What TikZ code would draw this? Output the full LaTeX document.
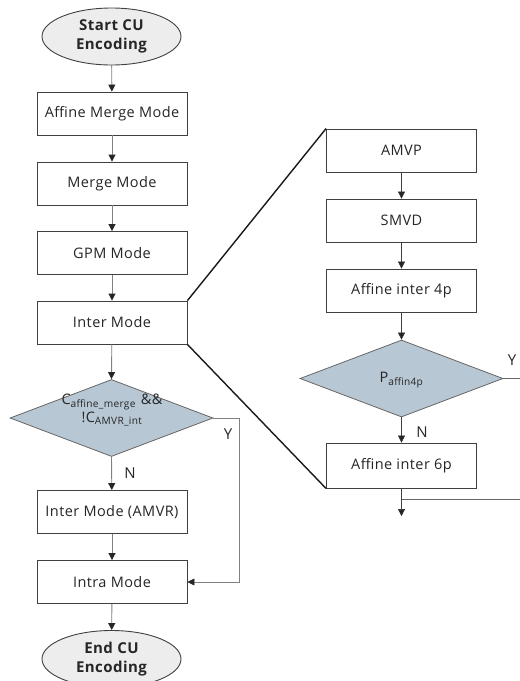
\documentclass[tikz,border=0pt]{standalone}
\usepackage{fontspec}
\setmainfont{Open Sans}[LetterSpace=3]
\usetikzlibrary{shapes.geometric,arrows.meta}
\begin{document}
\begin{tikzpicture}[x=1pt,y=-1pt,
  every node/.style={font=\fontsize{14.5}{18}\selectfont, text=black!85},
  procbox/.style={draw=black!75, line width=0.9pt, fill=white, minimum width=150pt, minimum height=43pt, inner sep=0pt},
  termnode/.style={ellipse, draw=black!75, line width=0.9pt, fill=black!7, minimum width=139pt, minimum height=57pt, inner sep=0pt, align=center, font=\fontsize{15}{19}\selectfont\bfseries},
  decnode/.style={diamond, draw=black!60, line width=0.8pt, fill={rgb,255:red,183;green,199;blue,212}, minimum width=203pt, minimum height=77pt, inner sep=0pt, shape aspect=2.6},
  dectext/.style={align=center, inner sep=0pt, font=\fontsize{14.5}{18}\selectfont},
  grayarrow/.style={draw=black!50, line width=0.9pt, -{Triangle[width=7pt,length=7pt,color=black!85,fill=black!85]}},
  darkarrow/.style={draw=black!75, line width=0.6pt, -{Triangle[width=7pt,length=7pt,color=black!85,fill=black!85]}},
  zoomline/.style={draw=black!90, line width=1.4pt},
  lbl/.style={font=\fontsize{15}{18}\selectfont, inner sep=0pt}
]
\useasboundingbox (0,0) rectangle (520,681);
\begin{scope}
\clip (0,0) rectangle (520,681);
% left column
\node[termnode] (start) at (111.5,36.5) {Start CU\\Encoding};
\node[procbox] (amm) at (112,113.5) {Affine Merge Mode};
\node[procbox] (mm) at (112,183.5) {Merge Mode};
\node[procbox] (gpm) at (112,253) {GPM Mode};
\node[procbox] (inter) at (112,322.5) {Inter Mode};
\node[decnode] (dec1) at (111.5,418) {};
\node[dectext] (dec1t) at (112,410) {C\textsubscript{affine\_merge}\,\,\&\&\\!C\textsubscript{AMVR\_int}};
\node[procbox] (amvr) at (112,512) {Inter Mode (AMVR)};
\node[procbox] (intra) at (112,582) {Intra Mode};
\node[termnode] (end) at (111.5,659) {End CU\\Encoding};

\draw[grayarrow] (start) -- (amm);
\draw[grayarrow] (amm) -- (mm);
\draw[grayarrow] (mm) -- (gpm);
\draw[grayarrow] (gpm) -- (inter);
\draw[grayarrow] (inter) -- (dec1.north);
\draw[grayarrow] (dec1.south) -- (amvr);
\draw[grayarrow] (amvr) -- (intra);
\draw[grayarrow] (intra) -- (end);
\coordinate (fb) at (239.5,418);
\draw[grayarrow, line width=0.7pt] (dec1.east) -- (fb) |- (intra.east);
\node[lbl] (y1) at (228,434) {Y};
\node[lbl] (n1) at (130,473) {N};

% right column
\node[procbox] (amvp) at (401.5,150.5) {AMVP};
\node[procbox] (smvd) at (401.5,220.5) {SMVD};
\node[procbox] (a4p) at (401.5,290.5) {Affine inter 4p};
\node[decnode] (dec2) at (401.5,378.5) {};
\node[dectext] (dec2t) at (401.5,380) {P\textsubscript{affin4p}};
\node[procbox, minimum height=45pt] (a6p) at (401.5,465.5) {Affine inter 6p};

\draw[darkarrow] (amvp) -- (smvd);
\draw[darkarrow] (smvd) -- (a4p);
\draw[darkarrow] (a4p) -- (dec2.north);
\draw[darkarrow] (dec2.south) -- (a6p);
\coordinate (outy) at (520,378.5);
\draw[draw=black!60, line width=0.6pt] (dec2.east) -- (outy);
\node[lbl] (y2) at (512,360) {Y};
\node[lbl] (n2) at (422,432) {N};
\coordinate (down) at (401.5,516);
\draw[darkarrow] (a6p.south) -- (down);
\coordinate (brj) at (401.5,499);
\coordinate (bre) at (520,499);
\draw[draw=black!60, line width=0.6pt] (brj) -- (bre);

% zoom lines
\draw[zoomline] (inter.north east) -- (amvp.north west);
\draw[zoomline] (inter.south east) -- (a6p.south west);
\end{scope}
\end{tikzpicture}
\end{document}
